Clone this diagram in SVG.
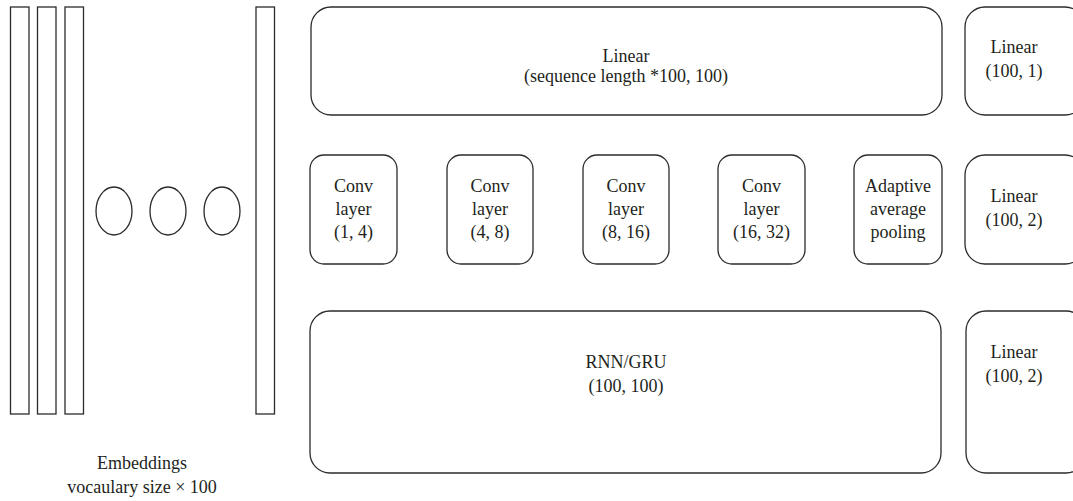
<svg xmlns="http://www.w3.org/2000/svg" width="1073" height="501" viewBox="0 0 1073 501">
<style>
.b{fill:#fff;stroke:#2b2b2b;stroke-width:1.3}
.t{font-family:"Liberation Serif","Times New Roman","DejaVu Serif",serif;font-size:18px;fill:#231f20;text-anchor:middle}
</style>
<rect width="1073" height="501" fill="#fff"/>
<g id="embeddings">
<rect class="b" x="10.5" y="7" width="18.5" height="407"/>
<rect class="b" x="37.5" y="7" width="18.5" height="407"/>
<rect class="b" x="65" y="7" width="18.5" height="407"/>
<ellipse class="b" cx="114" cy="211" rx="18" ry="24"/>
<ellipse class="b" cx="168" cy="211" rx="18" ry="24"/>
<ellipse class="b" cx="222" cy="211" rx="18" ry="24"/>
<rect class="b" x="256" y="7" width="18.5" height="407"/>
<text class="t" x="142" y="469">Embeddings</text>
<text class="t" x="142" y="493">vocaulary size × 100</text>
</g>
<g id="linear-seq">
<rect class="b" x="311" y="7" width="631" height="108" rx="20"/>
<text class="t" x="626" y="62">Linear</text>
<text class="t" x="626" y="82">(sequence length *100, 100)</text>
</g>
<g id="linear-1">
<rect class="b" x="965" y="7" width="120" height="108" rx="20"/>
<text class="t" x="1014" y="53">Linear</text>
<text class="t" x="1014" y="77">(100, 1)</text>
</g>
<g id="conv1">
<rect class="b" x="310" y="155" width="87" height="109" rx="14"/>
<text class="t" x="353.5" y="192">Conv</text>
<text class="t" x="353.5" y="215">layer</text>
<text class="t" x="353.5" y="238">(1, 4)</text>
</g>
<g id="conv2">
<rect class="b" x="447" y="155" width="86" height="109" rx="14"/>
<text class="t" x="490" y="192">Conv</text>
<text class="t" x="490" y="215">layer</text>
<text class="t" x="490" y="238">(4, 8)</text>
</g>
<g id="conv3">
<rect class="b" x="583" y="155" width="86" height="109" rx="14"/>
<text class="t" x="626" y="192">Conv</text>
<text class="t" x="626" y="215">layer</text>
<text class="t" x="626" y="238">(8, 16)</text>
</g>
<g id="conv4">
<rect class="b" x="718" y="155" width="87" height="109" rx="14"/>
<text class="t" x="761.5" y="192">Conv</text>
<text class="t" x="761.5" y="215">layer</text>
<text class="t" x="761.5" y="238">(16, 32)</text>
</g>
<g id="pooling">
<rect class="b" x="854" y="155" width="88" height="109" rx="14"/>
<text class="t" x="898" y="192">Adaptive</text>
<text class="t" x="898" y="215">average</text>
<text class="t" x="898" y="238">pooling</text>
</g>
<g id="linear-2a">
<rect class="b" x="965" y="155" width="120" height="109" rx="20"/>
<text class="t" x="1014" y="202">Linear</text>
<text class="t" x="1014" y="226">(100, 2)</text>
</g>
<g id="rnn">
<rect class="b" x="310" y="311" width="631" height="162" rx="20"/>
<text class="t" x="626" y="368">RNN/GRU</text>
<text class="t" x="626" y="392">(100, 100)</text>
</g>
<g id="linear-2b">
<rect class="b" x="966" y="311" width="120" height="162" rx="20"/>
<text class="t" x="1014" y="358">Linear</text>
<text class="t" x="1014" y="382">(100, 2)</text>
</g>
<g id="connectors"></g>
</svg>
